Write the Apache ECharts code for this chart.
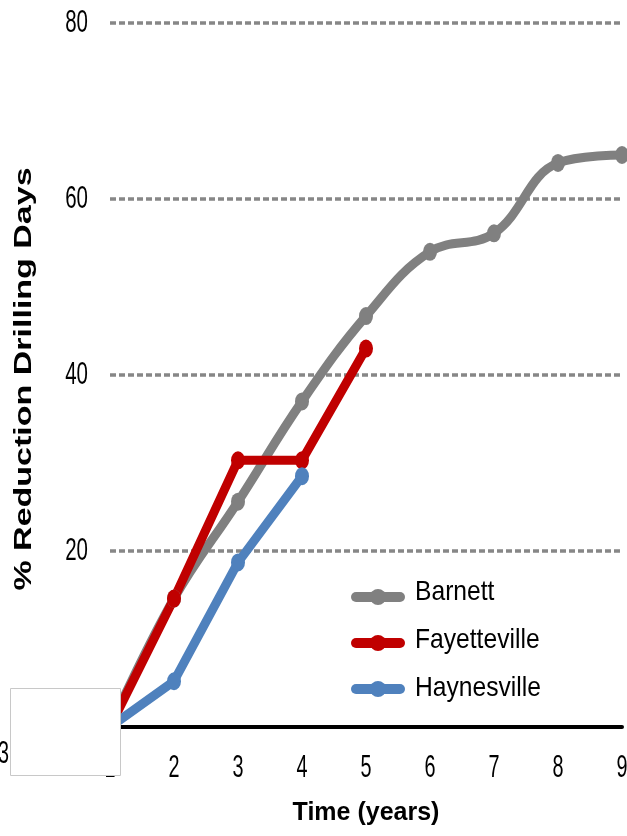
<!DOCTYPE html>
<html>
<head>
<meta charset="utf-8">
<script src="https://cdn.jsdelivr.net/npm/echarts@6/dist/echarts.min.js"></script>
<style>
  html, body { margin: 0; padding: 0; background: #fff; }
  #chart { width: 627px; height: 836px; }
</style>
</head>
<body>
<div id="chart"></div>
<script>
// Years since start of play development
const years = [1, 2, 3, 4, 5, 6, 7, 8, 9];
// % reduction in drilling days per play
const barnett = [0, 14.6, 25.6, 37.0, 46.7, 54.0, 56.1, 64.1, 65.0];
const fayetteville = [0, 14.6, 30.3, 30.3, 43.0];
const haynesville = [0, 5.2, 18.7, 28.5];
const seriesNames = ['Barnett', 'Fayetteville', 'Haynesville'];
const seriesColors = ['#808080', '#c00000', '#4f81bd'];
const xTickLabels = ['1', '2', '3', '4', '5', '6', '7', '8', '9'];
const yTicks = [20, 40, 60, 80];

const sans = "'Liberation Sans', Arial, sans-serif";

function pairs(vals) {
  return vals.map((v, i) => [years[i], v]);
}

function lineSeries(idx, vals, smooth) {
  const color = seriesColors[idx];
  return {
    name: seriesNames[idx],
    type: 'line',
    data: pairs(vals),
    smooth: smooth,
    clip: false,
    symbol: 'circle',
    symbolSize: [14, 18],
    itemStyle: { color: color },
    lineStyle: { color: color, width: 9 },
    z: 3
  };
}

const chart = echarts.init(document.getElementById('chart'));
chart.setOption({
  animation: false,
  backgroundColor: '#fff',
  grid: { left: 110, right: 5, top: 23, bottom: 109, containLabel: false },
  xAxis: {
    type: 'value',
    min: 1,
    max: 9,
    interval: 1,
    axisLine: { show: true, onZero: false, lineStyle: { color: '#000', width: 4 } },
    axisTick: { show: false },
    splitLine: { show: false },
    axisLabel: { show: false }
  },
  yAxis: {
    type: 'value',
    min: 0,
    max: 80,
    interval: 20,
    axisLine: { show: false },
    axisTick: { show: false },
    axisLabel: { show: false },
    splitLine: { show: true, lineStyle: { color: '#878787', width: 3.5, type: [6, 3] } }
  },
  legend: {
    orient: 'vertical',
    left: 346,
    top: 582,
    itemGap: 28,
    itemWidth: 44,
    itemHeight: 20,
    lineStyle: { width: 10, cap: 'round' },
    formatter: () => '',
    data: seriesNames
  },
  series: [
    lineSeries(0, barnett, 0.4),
    lineSeries(1, fayetteville, false),
    lineSeries(2, haynesville, false)
  ]
});

// Condensed text: tick labels, titles and legend names drawn as scaled text
function condensedText(text, x, y, size, sx, align, bold) {
  return {
    type: 'text',
    x: x,
    y: y,
    scaleX: sx,
    z: 10,
    style: {
      text: text,
      font: (bold ? 'bold ' : '') + size + 'px ' + sans,
      fill: '#000',
      align: align,
      verticalAlign: 'middle',
      textAlign: align,
      textVerticalAlign: 'middle'
    }
  };
}

const gfx = [];
const axisY = chart.convertToPixel({ yAxisIndex: 0 }, 0);
xTickLabels.forEach((t, i) => {
  const px = chart.convertToPixel({ xAxisIndex: 0 }, years[i]);
  gfx.push(condensedText(t, px, axisY + 41, 31, 0.64, 'center'));
});
yTicks.forEach(v => {
  const py = chart.convertToPixel({ yAxisIndex: 0 }, v);
  gfx.push(condensedText(String(v), 88, py, 31, 0.66, 'right'));
});
// axis titles
gfx.push(condensedText('Time (years)', 366, 813, 25, 1, 'center', true));
gfx.push({
  type: 'text',
  x: 24,
  y: 379,
  rotation: Math.PI / 2,
  scaleY: 0.72,
  z: 10,
  style: {
    text: '% Reduction Drilling Days',
    font: 'bold 34px ' + sans,
    fill: '#000',
    align: 'center', verticalAlign: 'middle',
    textAlign: 'center', textVerticalAlign: 'middle'
  }
});
// legend names
seriesNames.forEach((n, i) => {
  gfx.push(condensedText(n, 415, 592 + i * 48, 28, 0.88, 'left'));
});
// partly hidden label at the left edge and the blank box over the origin
gfx.push(condensedText('3', -2, 754, 31, 0.64, 'left'));
gfx.push({
  type: 'rect',
  shape: { x: 10.5, y: 688.5, width: 110, height: 87 },
  style: { fill: '#fff', stroke: '#c8c8c8', lineWidth: 1 },
  z: 100
});

chart.setOption({ graphic: gfx });
</script>
</body>
</html>
